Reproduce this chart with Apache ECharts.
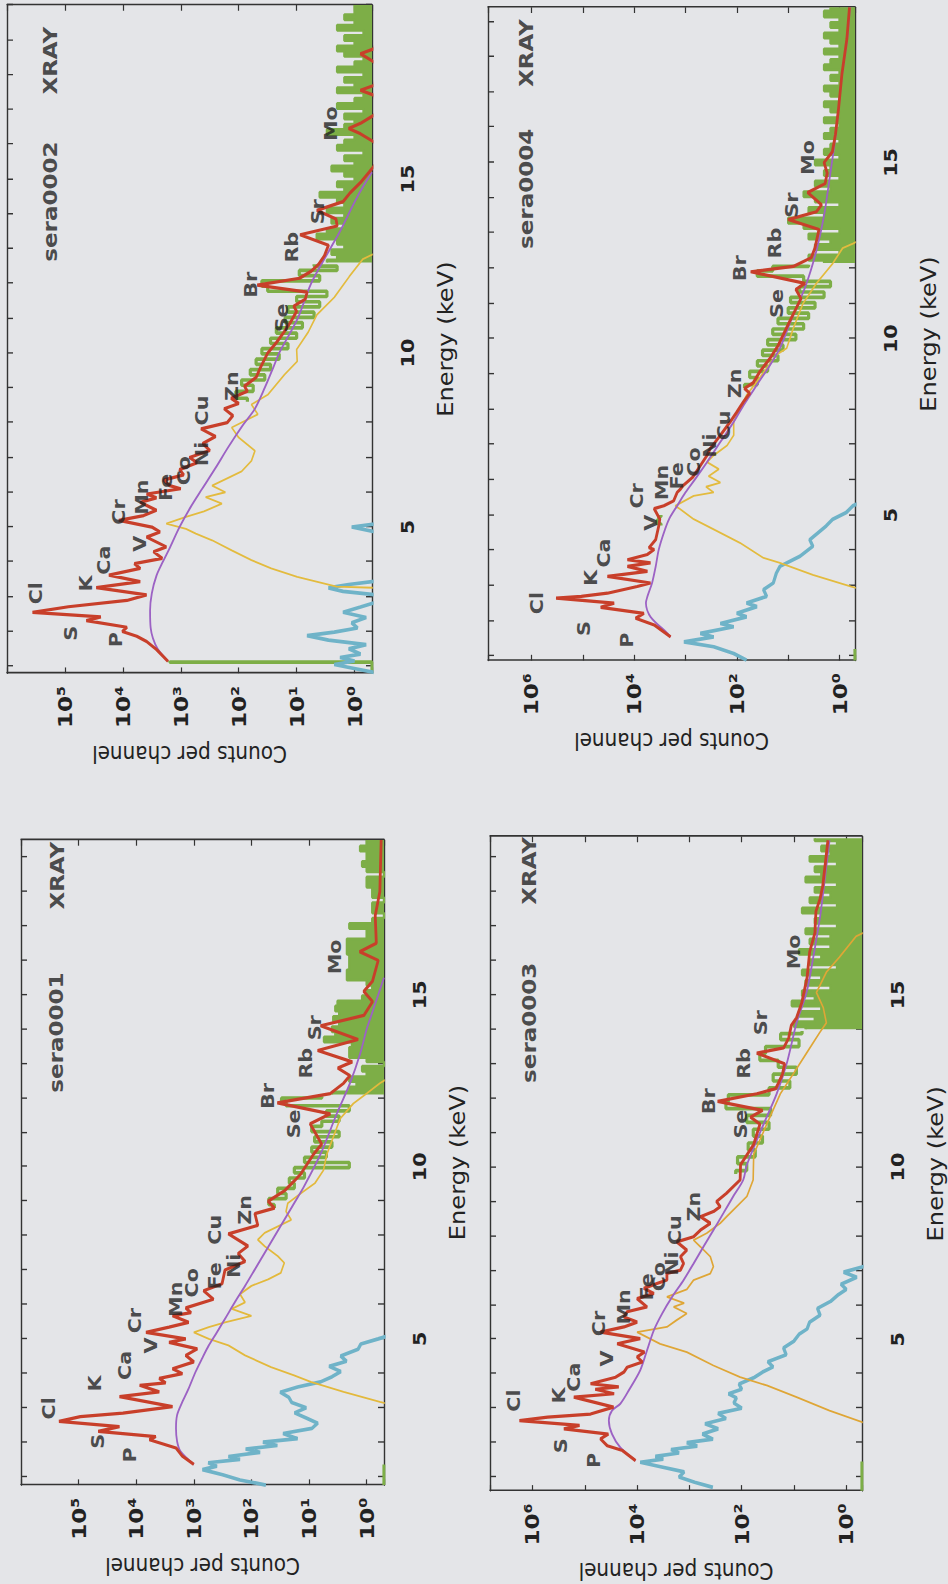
<!DOCTYPE html>
<html><head><meta charset="utf-8">
<script src="https://cdn.jsdelivr.net/npm/echarts@6/dist/echarts.min.js"></script>
<style>
html,body{margin:0;padding:0;width:948px;height:1584px;overflow:hidden;background:#e4e5e8;}
#wrap{position:absolute;left:0;top:0;width:1377px;height:948px;transform-origin:0 0;transform:translateY(1584px) rotate(-90deg) scaleX(1.15);}
</style></head><body><div id="wrap"></div>
<script>
// ---------- axis ticks / labels ----------
const energyTicks = [1,2,3,4,5,6,7,8,9,10,11,12,13,14,15,16,17,18,19,20];
const energyLabels = [5,10,15];
const countExpsA = [0,1,2,3,4,5];
const countExpsB = [0,2,4,6];

// ---------- sera0001 ----------
const red0001 = [[1.35,1000],[1.59,1580],[1.83,2040],[2.07,5890],[2.16,4570],[2.31,45700],[2.45,19500],[2.60,219000],[2.74,93300],[2.84,17000],[3.03,2340],[3.32,19500],[3.46,3980],[3.65,8710],[3.72,3090],[3.85,3980],[3.99,1580],[4.13,2340],[4.33,1000],[4.52,1380],[4.71,871],[4.90,2690],[5.00,1380],[5.19,6760],[5.34,2690],[5.48,1230],[5.67,2340],[5.76,1120],[5.90,1380],[6.15,457],[6.40,676],[6.60,324],[7.00,288],[7.25,129],[7.48,170],[7.70,115],[8.05,251],[8.30,77.6],[8.64,87.1],[8.80,39.8],[9.00,51.3],[9.30,26.9],[9.60,17.8],[9.78,14.1],[10.37,8.32],[10.66,6.03],[11.25,9.55],[11.54,4.27],[11.86,35.5],[12.13,4.27],[12.43,2.51],[12.65,1.95],[12.87,3.16],[13.05,1.78],[13.38,7.08],[13.70,1.41],[14.10,6.31],[14.40,1.12],[14.80,0.79],[15.10,1.12],[15.40,0.79],[16.00,0.63],[16.25,1.32],[16.50,0.68],[17.30,0.71],[18.00,0.59],[19.50,0.56]];
const bkg0001 = [[1.35,1000],[1.73,1700],[2.02,1950],[2.40,2040],[2.79,1950],[3.17,1580],[3.56,1230],[4.04,933],[4.42,724],[4.81,550],[5.19,398],[5.58,288],[6.06,195],[6.54,129],[7.02,87.1],[7.50,58.9],[7.98,39.8],[8.46,26.9],[8.94,18.2],[9.42,12.3],[10.37,6.31],[11.54,3.31],[12.43,1.95],[13.30,1.29],[14.00,1.0],[14.30,0.87],[15.00,0.63],[15.50,0.5]];
const yel0001 = [[3.10,0.4],[3.17,0.59],[3.46,2.51],[3.75,9.33],[3.94,18.2],[4.18,45.7],[4.52,129],[4.81,251],[5.00,550],[5.19,1000],[5.34,550],[5.48,288],[5.67,100],[5.87,219],[6.06,129],[6.30,158],[6.54,100],[6.73,51.3],[6.92,30.9],[7.21,26.9],[7.40,34.7],[7.69,58.9],[7.88,77.6],[8.08,58.9],[8.27,34.7],[8.46,20.4],[8.70,25.1],[8.94,23.4],[9.23,13.8],[9.52,7.94],[9.90,5.62],[10.37,4.9],[11.40,2.88],[11.84,1.7],[12.13,1.0],[12.43,0.59],[12.60,0.4]];
const cyan0001 = [[0.75,56.2],[0.90,158],[1.05,316],[1.20,708],[1.30,398],[1.40,562],[1.50,158],[1.58,251],[1.70,70.8],[1.80,126],[1.90,35.5],[2.00,63.1],[2.10,15.8],[2.25,28.2],[2.40,8.91],[2.55,7.08],[2.70,11.2],[2.85,17.8],[3.00,11.2],[3.15,20],[3.30,22.4],[3.45,31.6],[3.60,15.8],[3.75,6.31],[3.90,3.98],[4.05,2.82],[4.20,4.47],[4.35,2.24],[4.50,2.82],[4.70,1.41],[4.85,1.26],[5.00,0.63],[5.10,0.4]];
const grnLow0001 = [[0.75,0.5],[1.35,0.5]];
const grnMid0001 = [[8.8,40],[9.0,50],[9.15,25],[9.3,35],[9.45,18],[9.6,22],[9.75,12],[9.9,18],[10.05,2],[10.2,12],[10.35,5],[10.5,9],[10.65,4],[10.8,8],[10.95,3],[11.1,9],[11.25,6],[11.4,3],[11.55,5],[11.7,2],[11.85,25],[11.95,30],[12.05,6]];
const grnHigh0001 = [[12.10,4],[12.25,2],[12.40,1.5],[12.55,2],[12.70,1],[12.85,1.2],[13.00,0.5],[13.10,1],[13.25,2],[13.40,2],[13.55,1.8],[13.70,5.5],[13.85,3.5],[14.00,4],[14.15,3],[14.30,3.8],[14.45,3],[14.60,3.5],[14.75,3.2],[14.90,1.2],[15.05,1],[15.20,0.8],[15.35,1],[15.50,2.2],[15.65,2.2],[15.80,2],[15.95,2],[16.10,2],[16.25,2.2],[16.40,2.2],[16.55,2.2],[16.70,1],[16.85,1],[17.00,2],[17.15,0.8],[17.30,0.5],[17.45,0.8],[17.60,0.8],[17.75,0.5],[17.90,0.8],[18.05,0.8],[18.20,1],[18.35,1],[18.50,0.5],[18.65,1],[18.80,1.2],[18.95,1],[19.10,1],[19.25,1.3],[19.40,1],[19.50,1]];
const lab0001 = [[1.63,12900,'P'],[2.02,45700,'S'],[2.98,324000,'Cl'],[3.70,51300,'K'],[4.23,15800,'Ca'],[4.81,5500,'V'],[5.53,10700,'Cr'],[6.15,2040,'Mn'],[6.63,1070,'Co'],[6.83,427,'Fe'],[7.12,204,'Ni'],[8.17,427,'Cu'],[8.75,129,'Zn'],[11.25,18.2,'Se'],[12.06,52.5,'Br'],[13.01,11.5,'Rb'],[14.04,7.76,'Sr'],[16.10,3.55,'Mo']];
const tag0001 = [[13.90,251000,'sera0001'],[18.46,234000,'XRAY']];

// ---------- sera0002 ----------
const red0002 = [[1.14,1660],[1.48,2630],[1.71,3890],[1.86,5750],[2.00,10200],[2.12,8510],[2.31,42700],[2.42,24000],[2.55,363000],[2.71,87100],[2.89,8510],[3.05,3890],[3.26,28800],[3.43,5010],[3.62,17400],[3.81,5010],[3.95,6310],[4.10,2090],[4.29,2950],[4.43,1780],[4.71,3890],[4.86,2290],[5.00,3160],[5.19,11700],[5.33,4370],[5.48,2630],[5.71,5010],[5.84,2630],[5.95,3890],[6.10,1000],[6.19,1550],[6.35,2000],[6.50,891],[6.65,1050],[6.85,525],[7.00,708],[7.20,316],[7.40,417],[7.60,251],[7.82,447],[8.00,158],[8.20,126],[8.40,178],[8.55,100],[8.70,135],[8.90,70.8],[9.05,79.4],[9.30,50.1],[9.60,41.7],[10.00,31.6],[10.30,22.4],[10.60,16.6],[10.90,12.6],[11.20,10.0],[11.35,11.2],[11.55,7.08],[11.75,6.61],[11.95,47.9],[12.15,8.91],[12.35,5.62],[12.55,4.17],[12.80,3.31],[13.10,2.82],[13.40,8.71],[13.65,2.0],[13.85,2.09],[14.10,4.47],[14.35,1.58],[14.60,1.20],[14.90,0.79],[15.20,0.56],[15.50,0.40],[16.00,0.40],[16.30,0.79],[16.45,1.26],[16.60,0.79],[16.90,0.40],[17.40,0.45],[17.55,0.79],[17.70,0.45],[18.30,0.40],[18.60,0.79],[18.75,0.45],[19.20,0.40],[20.00,0.40]];
const bkg0002 = [[1.14,1660],[1.50,2510],[1.80,3020],[2.10,3310],[2.60,3390],[3.10,3160],[3.60,2630],[4.00,2040],[4.40,1550],[5.00,1050],[5.60,661],[6.10,427],[6.70,251],[7.30,151],[7.90,87.1],[8.40,52.5],[9.00,35.5],[9.60,25.1],[10.00,20.0],[11.00,9.55],[12.00,5.62],[13.00,2.63],[13.50,1.78],[14.50,0.89],[15.20,0.50]];
const yel0002 = [[3.25,0.40],[3.29,2.04],[3.57,9.77],[3.81,27.5],[4.05,60.3],[4.33,132],[4.62,288],[4.81,550],[4.95,813],[5.10,1780],[5.29,813],[5.45,398],[5.67,195],[5.86,372],[6.00,170],[6.19,288],[6.40,158],[6.60,89.1],[6.90,60.3],[7.19,52.5],[7.57,100],[7.86,132],[8.24,46.8],[8.52,60.3],[8.80,31.6],[9.38,16.2],[9.76,9.77],[10.10,10.0],[10.60,6.31],[11.10,4.47],[11.60,2.24],[12.20,1.23],[12.70,0.72],[12.90,0.40]];
const cyan0002 = [[0.80,0.4],[0.95,1.12],[1.05,2.24],[1.15,1.0],[1.25,1.78],[1.35,0.79],[1.50,1.26],[1.62,0.63],[1.75,2.82],[1.88,6.61],[1.98,2.24],[2.10,0.89],[2.25,1.12],[2.40,0.63],[2.55,1.58],[2.70,0.79],[2.85,0.4],[3.05,0.4],[3.15,1.58],[3.25,2.82],[3.35,1.26],[3.45,0.4],[4.85,0.4],[5.00,1.12],[5.10,0.4]];
const grnLow0002 = [[0.80,0.5],[1.12,0.5],[1.12,1550],[1.16,1550]];
const grnMid0002 = [[8.6,70.8],[8.8,112],[9.0,56.2],[9.15,89.1],[9.3,35.5],[9.45,63.1],[9.6,28.2],[9.75,50.1],[9.9,20],[10.05,39.8],[10.2,14.1],[10.35,28.2],[10.5,10],[10.65,22.4],[10.8,7.94],[10.95,15.8],[11.1,5],[11.25,14.1],[11.4,4],[11.55,10],[11.7,3],[11.85,31.6],[12.0,39.8],[12.15,4],[12.3,9],[12.45,2],[12.55,5]];
const grnHigh0002 = [[12.6,3],[12.75,2],[12.9,2.5],[13.05,1.5],[13.2,2],[13.35,4.5],[13.5,3],[13.65,1.5],[13.8,2.5],[13.95,1.5],[14.1,3],[14.25,1.5],[14.4,2],[14.55,4],[14.7,1.5],[14.85,2],[15.0,1],[15.15,1.5],[15.3,2.5],[15.45,1],[15.6,1.5],[15.75,0.7],[15.9,2],[16.05,1.5],[16.2,1],[16.35,3],[16.5,1.5],[16.65,1],[16.8,1.5],[16.95,0.7],[17.1,2],[17.25,1],[17.4,0.7],[17.55,2],[17.7,1],[17.85,1.5],[18.0,0.7],[18.15,2],[18.3,1],[18.45,0.7],[18.6,1.5],[18.75,2],[18.9,1],[19.05,1.5],[19.2,0.7],[19.35,2],[19.5,1],[19.65,1.5],[19.8,1],[20.0,1]];
const lab0002 = [[1.76,13200,'P'],[1.95,77600,'S'],[3.10,316000,'Cl'],[3.38,42700,'K'],[4.05,20900,'Ca'],[4.52,5010,'V'],[5.43,11700,'Cr'],[5.86,4680,'Mn'],[6.14,1780,'Fe'],[6.62,871,'Co'],[7.10,427,'Ni'],[8.35,427,'Cu'],[9.05,132,'Zn'],[11.01,17.8,'Se'],[11.96,61.7,'Br'],[13.04,12.0,'Rb'],[14.06,4.27,'Sr'],[16.59,2.51,'Mo']];
const tag0002 = [[14.35,182000,'sera0002'],[18.40,182000,'XRAY']];

// ---------- sera0003 ----------
const red0003 = [[1.48,10700],[1.77,19000],[1.91,37200],[2.11,50100],[2.25,35500],[2.40,251000],[2.50,126000],[2.64,1780000],[2.74,513000],[2.83,77600],[3.03,28200],[3.32,162000],[3.42,27500],[3.55,63100],[3.62,22400],[3.71,77600],[3.90,25700],[4.05,17800],[4.19,15500],[4.34,7940],[4.49,10000],[4.63,7240],[4.87,24000],[5.02,8710],[5.21,50100],[5.36,17800],[5.50,10000],[5.65,17800],[5.80,15500],[5.94,6460],[6.18,10000],[6.33,4790],[6.48,7410],[6.62,4170],[6.72,2690],[6.91,2690],[7.01,1480],[7.20,1290],[7.40,1480],[7.59,1120],[7.83,1740],[7.98,832],[8.17,617],[8.37,398],[8.56,617],[8.71,347],[8.85,257],[9.00,302],[9.24,195],[9.63,107],[10.07,105],[10.66,58.9],[11.25,44.7],[11.45,67.6],[11.65,39.8],[11.91,288],[12.13,51.3],[12.28,22.4],[12.43,20.0],[12.70,16.6],[13.00,15.1],[13.31,51.3],[13.46,15.8],[13.75,12.6],[14.12,11.2],[14.34,8.91],[14.78,7.08],[15.50,5.62],[16.25,5.01],[16.80,3.98],[17.43,3.80],[17.80,3.16],[18.16,2.82],[19.49,2.24]];
const bkg0003 = [[1.48,10700],[1.86,20900],[2.25,30200],[2.64,34700],[2.93,30200],[3.13,20900],[3.51,14500],[4.10,8710],[4.68,6460],[5.26,4790],[5.75,3310],[6.23,2140],[6.72,1290],[7.20,832],[7.69,537],[8.17,347],[8.66,224],[9.15,145],[9.63,93.3],[10.07,79.4],[11.25,38.0],[12.13,21.4],[13.00,13.8],[14.19,8.91],[15.07,5.75],[16.10,4.27],[17.28,3.16],[18.00,2.75],[18.75,2.40],[19.49,2.09]];
const yel0003 = [[2.55,0.4],[2.59,0.48],[2.93,2.09],[3.32,8.91],[3.66,33.1],[3.90,107],[4.24,347],[4.63,1120],[4.87,3630],[5.21,10000],[5.36,2690],[5.55,1780],[5.75,1120],[5.94,2000],[6.05,1260],[6.23,2690],[6.45,1120],[6.72,832],[6.91,398],[7.11,347],[7.40,398],[7.69,617],[7.88,832],[8.08,468],[8.37,257],[8.56,195],[9.15,79.4],[9.63,60.3],[10.37,58.9],[11.25,33.1],[12.13,18.2],[12.72,10.2],[13.31,5.75],[13.90,3.24],[14.19,2.40],[14.63,2.75],[15.07,3.72],[15.66,2.40],[16.10,1.35],[16.70,0.65],[16.85,0.4]];
const cyan0003 = [[0.70,355],[0.85,794],[1.00,1580],[1.15,1260],[1.30,3550],[1.43,8710],[1.52,3160],[1.60,4470],[1.70,1580],[1.80,2240],[1.90,708],[2.00,1120],[2.10,355],[2.25,562],[2.40,282],[2.55,501],[2.70,200],[2.85,282],[3.00,100],[3.15,141],[3.30,126],[3.42,178],[3.55,100],[3.70,112],[3.90,56.2],[4.05,39.8],[4.20,25.1],[4.35,31.6],[4.55,14.1],[4.75,15.8],[4.95,10],[5.15,7.94],[5.30,5.62],[5.50,5.01],[5.70,3.16],[5.90,3.55],[6.10,2.0],[6.30,1.41],[6.45,1.0],[6.60,1.26],[6.80,0.63],[6.95,1.12],[7.10,0.5],[7.20,0.32]];
const grnLow0003 = [[0.60,0.5],[1.45,0.5]];
const grnMid0003 = [[9.8,130],[10.0,80],[10.2,120],[10.4,55],[10.6,75],[10.8,40],[11.0,60],[11.2,30],[11.4,80],[11.6,28],[11.8,200],[12.0,180],[12.2,30],[12.4,12],[12.6,25],[12.8,9],[13.0,20],[13.2,45],[13.4,35],[13.6,8],[13.8,18],[13.95,7]];
const grnHigh0003 = [[14.0,6],[14.15,10],[14.3,4],[14.45,8],[14.6,3],[14.75,11],[14.9,4],[15.05,7],[15.2,2],[15.35,6],[15.5,3],[15.65,7],[15.8,1.5],[15.95,5],[16.1,3],[16.25,8],[16.4,2],[16.55,5],[16.7,2],[16.85,6],[17.0,1.5],[17.15,4],[17.3,3],[17.45,7],[17.6,1.5],[17.75,5],[17.9,2],[18.05,4],[18.2,1.5],[18.35,6],[18.5,3],[18.65,4],[18.8,1.5],[18.95,5],[19.1,2],[19.25,3],[19.4,1.5],[19.55,4]];
const lab0003 = [[1.48,67600,'P'],[1.91,288000,'S'],[3.22,2240000,'Cl'],[3.37,309000,'K'],[3.90,162000,'Ca'],[4.44,37200,'V'],[5.46,53700,'Cr'],[5.94,17800,'Mn'],[6.52,6460,'Fe'],[6.82,3890,'Co'],[7.20,2140,'Ni'],[8.17,1860,'Cu'],[8.85,832,'Zn'],[11.25,105,'Se'],[11.91,417,'Br'],[13.01,91.2,'Rb'],[14.19,43.7,'Sr'],[16.25,10.2,'Mo']];
const tag0003 = [[14.19,1150000,'sera0003'],[18.60,1150000,'XRAY']];

// ---------- sera0004 ----------
const red0004 = [[1.54,1950],[1.88,4070],[2.07,9330],[2.21,6460],[2.38,44700],[2.50,24500],[2.64,331000],[2.69,107000],[2.78,33100],[2.97,8710],[3.07,4790],[3.26,33100],[3.40,5500],[3.54,13500],[3.64,4790],[3.73,13500],[3.88,5500],[4.02,4070],[4.07,5130],[4.30,3800],[4.69,3310],[4.88,3160],[5.18,4070],[5.26,2630],[5.40,1700],[5.64,1450],[5.73,1260],[5.83,1120],[6.07,724],[6.40,513],[6.69,380],[6.88,331],[7.26,209],[7.64,135],[7.92,100],[8.21,74.1],[8.45,56.2],[8.59,70.8],[8.75,47.9],[9.07,35.5],[9.45,22.4],[9.80,15.8],[10.43,9.8],[11.14,5.62],[11.40,7.08],[11.57,4.7],[11.90,53.7],[12.05,7.94],[12.30,3.55],[12.57,3.02],[13.10,2.51],[13.38,10.0],[13.60,2.82],[13.80,2.24],[14.15,4.17],[14.40,1.91],[14.70,1.74],[15.00,2.0],[15.30,1.38],[15.80,1.2],[16.50,1.05],[17.50,0.9],[18.50,0.72],[19.40,0.64]];
const bkg0004 = [[1.54,1950],[1.64,2240],[2.11,4790],[2.50,5890],[2.69,5500],[3.07,4470],[3.54,3800],[4.02,3310],[4.50,2630],[4.88,2090],[5.26,1450],[5.64,1000],[6.02,646],[6.50,380],[7.07,209],[7.64,115],[8.11,74.1],[8.69,40.7],[9.26,22.4],[9.73,14.5],[10.50,8.91],[11.50,4.57],[12.50,2.82],[13.50,2.0],[14.50,1.58],[15.50,1.26],[16.50,1.05],[17.50,0.89],[18.50,0.71],[19.40,0.63]];
const yel0004 = [[2.90,0.4],[2.97,0.59],[3.30,3.31],[3.64,14.5],[3.78,30.2],[4.21,87.1],[4.59,282],[4.88,692],[5.16,1260],[5.26,1580],[5.54,692],[5.64,282],[5.80,398],[5.92,209],[6.10,355],[6.30,224],[6.50,380],[6.69,282],[6.97,155],[7.26,115],[7.64,115],[8.00,87.1],[8.40,64.6],[8.78,40.7],[9.16,26.3],[9.54,17.0],[9.73,10.7],[10.30,7.94],[11.00,5.13],[11.57,2.82],[12.14,1.35],[12.57,0.87],[12.70,0.55],[12.80,0.4]];
const cyan0004 = [[0.88,64.6],[1.07,115],[1.26,282],[1.40,1070],[1.54,282],[1.64,513],[1.83,115],[1.92,209],[2.11,64.6],[2.21,100],[2.40,40.7],[2.50,64.6],[2.69,26.3],[2.88,30.2],[3.07,19.5],[3.35,17.0],[3.54,14.5],[3.83,5.89],[4.11,3.31],[4.30,3.80],[4.69,1.82],[4.88,1.35],[5.07,0.74],[5.26,0.55],[5.35,0.4]];
const grnLow0004 = [[0.87,0.5],[1.20,0.5]];
const grnV0004 = [[4.70,3000],[4.80,3600],[4.90,3300],[5.00,3000]];
const grnMid0004 = [[8.6,70.8],[8.8,39.8],[9.0,56.2],[9.15,25.1],[9.3,39.8],[9.45,15.8],[9.6,31.6],[9.75,12.6],[9.9,25.1],[10.05,7.08],[10.2,20],[10.35,5],[10.5,15.8],[10.65,4],[10.8,10],[10.95,3],[11.1,9],[11.25,2],[11.4,6],[11.55,1.5],[11.7,5],[11.85,40],[12.0,20],[12.1,4]];
const grnHigh0004 = [[12.15,2],[12.3,4],[12.45,1],[12.6,3],[12.75,1.5],[12.9,4],[13.05,1],[13.2,5],[13.35,10],[13.5,2],[13.65,4],[13.8,1],[13.95,3],[14.1,5],[14.25,1.5],[14.4,3],[14.55,1],[14.7,2],[14.85,1.5],[15.0,3],[15.15,1],[15.3,2],[15.45,1.5],[15.6,1],[15.75,2],[15.9,1.5],[16.05,1],[16.2,2],[16.35,1],[16.5,1.5],[16.65,2],[16.8,1],[16.95,1.5],[17.1,2],[17.25,1],[17.4,1.5],[17.55,1],[17.7,2],[17.85,1.5],[18.0,1],[18.15,2],[18.3,1],[18.45,1.5],[18.6,2],[18.75,1],[18.9,1.5],[19.05,1],[19.2,2],[19.4,1.5]];
const lab0004 = [[1.45,13500,'P'],[1.78,93300,'S'],[2.50,794000,'Cl'],[3.21,69200,'K'],[3.92,38000,'Ca'],[4.78,4790,'V'],[5.54,8710,'Cr'],[5.92,2820,'Mn'],[6.11,1450,'Fe'],[6.50,692,'Co'],[6.97,331,'Ni'],[7.54,182,'Cu'],[8.73,107,'Zn'],[11.00,16.6,'Se'],[12.00,85.1,'Br'],[12.71,17.8,'Rb'],[13.79,8.51,'Sr'],[15.14,4.07,'Mo']];
const tag0004 = [[14.25,1260000,'sera0004'],[18.10,1260000,'XRAY']];

// ---------- layout / style ----------
const FONT = 'DejaVu Sans';
const INK = '#222';
const GREEN = '#7dae47';
const panels = [
  {grid:{left:86,top:21,width:561,height:363}, e:[0.75,19.5], c:[0.5,1e6], exps:countExpsA, red:red0001, bkg:bkg0001, yel:yel0001, cyan:cyan0001, grnLines:[grnLow0001, grnMid0001], grnFill:grnHigh0001, lab:lab0001, tag:tag0001, yc:'#e3b93c'},
  {grid:{left:792,top:7,width:581,height:365}, e:[0.8,20.0], c:[0.5,1e6], exps:countExpsA, red:red0002, bkg:bkg0002, yel:yel0002, cyan:cyan0002, grnLines:[grnLow0002, grnMid0002], grnFill:grnHigh0002, lab:lab0002, tag:tag0002, yc:'#e3bb3e'},
  {grid:{left:81,top:490,width:569,height:372}, e:[0.6,19.6], c:[0.5,6.5e6], exps:countExpsB, red:red0003, bkg:bkg0003, yel:yel0003, cyan:cyan0003, grnLines:[grnLow0003, grnMid0003], grnFill:grnHigh0003, lab:lab0003, tag:tag0003, yc:'#dfa636'},
  {grid:{left:803,top:488,width:568,height:367}, e:[0.87,19.4], c:[0.5,7e6], exps:countExpsB, red:red0004, bkg:bkg0004, yel:yel0004, cyan:cyan0004, grnLines:[grnLow0004, grnV0004, grnMid0004], grnFill:grnHigh0004, lab:lab0004, tag:tag0004, yc:'#e3bb3e'}
];
const SUP = ['\u2070','\u00B9','\u00B2','\u00B3','\u2074','\u2075','\u2076'];
const frame = {show:true, onZero:false, lineStyle:{color:'#333', width:1.4}};
const tickStyle = {color:'#333', width:1.2};

const option = {animation:false, backgroundColor:'transparent', grid:[], xAxis:[], yAxis:[], series:[]};
panels.forEach((p, i) => {
  option.grid.push(p.grid);
  const xi = option.xAxis.length, yi = option.yAxis.length;
  option.xAxis.push({
    gridIndex:i, type:'value', min:p.e[0], max:p.e[1], position:'bottom',
    axisLine:frame, splitLine:{show:false},
    axisTick:{show:true, inside:true, length:6, customValues:energyTicks, lineStyle:tickStyle},
    axisLabel:{show:true, customValues:energyLabels, margin:27, fontSize:18, fontWeight:'bold', color:INK, fontFamily:FONT},
    name:'Energy (keV)', nameLocation:'middle', nameGap:63,
    nameTextStyle:{fontSize:21, color:INK, fontFamily:FONT}
  });
  option.xAxis.push({
    gridIndex:i, type:'value', min:p.e[0], max:p.e[1], position:'top',
    axisLine:frame, splitLine:{show:false},
    axisTick:{show:true, inside:true, length:6, customValues:energyTicks, lineStyle:tickStyle},
    axisLabel:{show:false}
  });
  const fmt = v => { const e = Math.log10(v); const r = Math.round(e);
    if (Math.abs(e - r) > 0.01 || p.exps.indexOf(r) < 0) return ''; return '10' + SUP[r]; };
  option.yAxis.push({
    gridIndex:i, type:'log', logBase:10, min:p.c[0], max:p.c[1], position:'left', splitNumber:6,
    axisLine:frame, splitLine:{show:false}, minorTick:{show:false},
    axisTick:{show:true, inside:true, length:5, lineStyle:tickStyle},
    axisLabel:{show:true, formatter:fmt, margin:11, fontSize:20, fontWeight:'bold', color:INK, fontFamily:FONT},
    name:'Counts per channel', nameLocation:'middle', nameRotate:90, nameGap:60,
    nameTextStyle:{fontSize:20, color:INK, fontFamily:FONT}
  });
  option.yAxis.push({
    gridIndex:i, type:'log', logBase:10, min:p.c[0], max:p.c[1], position:'right', splitNumber:6,
    axisLine:frame, splitLine:{show:false},
    axisTick:{show:true, inside:true, length:5, lineStyle:tickStyle},
    axisLabel:{show:false}
  });
  const line = (data, color, width, extra) => Object.assign({
    type:'line', xAxisIndex:xi, yAxisIndex:yi, data:data, showSymbol:false, symbol:'none',
    clip:true, silent:true,
    lineStyle:{color:color, width:width}, itemStyle:{color:color}
  }, extra || {});
  p.grnLines.forEach(g => option.series.push(line(g, GREEN, 3.2, {step:'middle'})));
  option.series.push(line(p.grnFill, GREEN, 2.4, {step:'middle', areaStyle:{color:GREEN, opacity:1, origin:'start'}}));
  option.series.push(line(p.cyan, '#6fb3c8', 3.2));
  option.series.push(line(p.yel, p.yc, 1.6));
  option.series.push(line(p.bkg, '#9c62c4', 1.8, {smooth:0.3}));
  option.series.push(line(p.red, '#c83f2a', 2.8));
  const txt = (data, size) => ({
    type:'scatter', xAxisIndex:xi, yAxisIndex:yi, data:data, symbolSize:1, silent:true, z:10,
    itemStyle:{color:'rgba(0,0,0,0)'},
    label:{show:true, position:'inside', formatter:d => d.data[2], fontSize:size, fontWeight:'bold', color:INK, fontFamily:FONT}
  });
  option.series.push(txt(p.lab, 18));
  option.series.push(txt(p.tag, 20));
});
const chart = echarts.init(document.getElementById('wrap'), null, {renderer:'svg'});
chart.setOption(option);
</script></body></html>
